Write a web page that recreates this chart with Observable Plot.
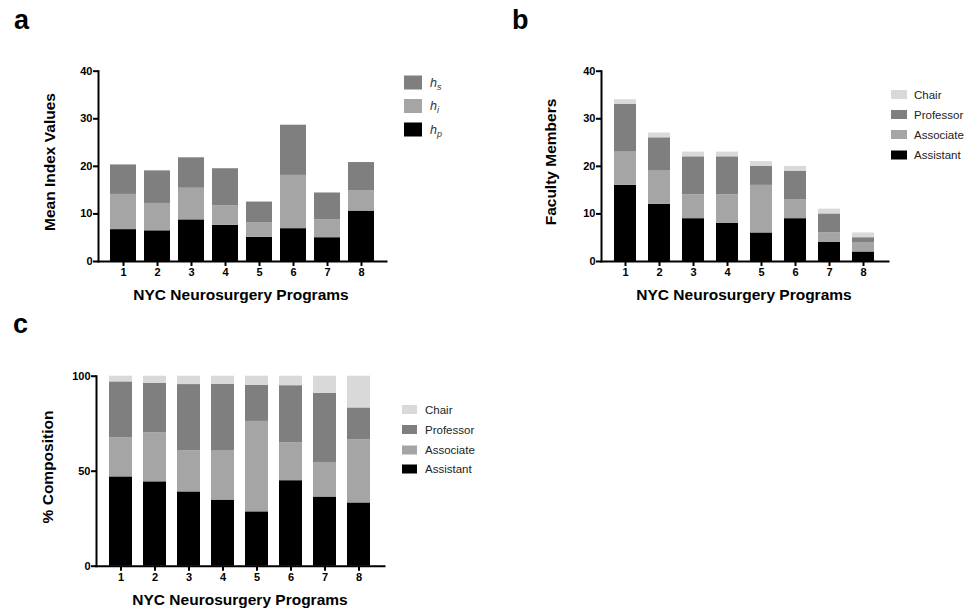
<!DOCTYPE html>
<html>
<head>
<meta charset="utf-8">
<script src="https://cdn.jsdelivr.net/npm/d3@7"></script>
<script src="https://cdn.jsdelivr.net/npm/@observablehq/plot@0.6"></script>
<style>
  html, body { margin: 0; padding: 0; background: #fff; }
  #root { position: relative; width: 977px; height: 613px; background: #fff; overflow: hidden;
          font-family: 'Liberation Sans', Arial, sans-serif; }
  #root > svg, #root > figure { position: absolute; margin: 0; }
</style>
</head>
<body>
<div id="root"></div>
<script>
// ---------- data ----------
const programs = ["1", "2", "3", "4", "5", "6", "7", "8"];

// panel a: mean index values
const indexSeries = ["hp", "hi", "hs"];
const hp = [6.7, 6.45, 8.75, 7.6, 5.1, 6.9, 5.0, 10.6];
const hi = [7.4, 5.75, 6.65, 4.1, 3.0, 11.2, 3.75, 4.3];
const hs = [6.2, 6.85, 6.4, 7.8, 4.4, 10.55, 5.65, 5.9];

// panel b: faculty members
const rankSeries = ["Assistant", "Associate", "Professor", "Chair"];
const assistant = [16, 12, 9, 8, 6, 9, 4, 2];
const associate = [7, 7, 5, 6, 10, 4, 2, 2];
const professor = [10, 7, 8, 8, 4, 6, 4, 1];
const chair = [1, 1, 1, 1, 1, 1, 1, 1];

// panel c: % composition
const pctAssistant = [47.0, 44.4, 39.1, 34.8, 28.6, 45.0, 36.4, 33.3];
const pctAssociate = [20.6, 25.9, 21.7, 26.1, 47.6, 20.0, 18.2, 33.3];
const pctProfessor = [29.4, 25.9, 34.8, 34.8, 19.0, 30.0, 36.4, 16.7];
const pctChair = [3.0, 3.8, 4.4, 4.3, 4.8, 5.0, 9.0, 16.7];

const ticksA = [0, 10, 20, 30, 40];
const ticksB = [0, 10, 20, 30, 40];
const ticksC = [0, 50, 100];

const indexColors = ["#000000", "#a5a5a5", "#7f7f7f"];
const rankColors = ["#000000", "#a5a5a5", "#7f7f7f", "#d9d9d9"];

function tidy(series, arrays) {
  const out = [];
  programs.forEach((p, i) => {
    series.forEach((s, j) => out.push({program: p, series: s, value: arrays[j][i]}));
  });
  return out;
}

const dataA = tidy(indexSeries, [hp, hi, hs]);
const dataB = tidy(rankSeries, [assistant, associate, professor, chair]);
const dataC = tidy(rankSeries, [pctAssistant, pctAssociate, pctProfessor, pctChair]);

function panel(o) {
  return Plot.plot({
    width: o.width, height: o.height,
    marginLeft: o.ml, marginRight: o.mr, marginTop: o.mt, marginBottom: o.mb,
    style: {fontFamily: "'Liberation Sans', Arial, sans-serif", fontWeight: "bold",
            fontSize: "11px", color: "#000", background: "transparent", overflow: "visible"},
    x: {domain: programs, paddingInner: o.pi, paddingOuter: o.po, label: null},
    y: {domain: o.yDomain, label: null},
    color: {domain: o.series, range: o.colors},
    marks: [
      Plot.barY(o.data, {x: "program", y: "value", fill: "series"}),
      Plot.frame({anchor: "left", strokeWidth: 2}),
      Plot.frame({anchor: "bottom", strokeWidth: 2}),
      Plot.axisY({ticks: o.yTicks, tickSize: 5, tickPadding: 1, strokeWidth: 2, label: null, fontSize: 11, fontWeight: "bold"}),
      Plot.axisX({tickSize: 5, tickPadding: 2, strokeWidth: 2, label: null, fontSize: 11, fontWeight: "bold"})
    ]
  });
}

const root = document.getElementById("root");

function place(el, left, top) {
  el.style.position = "absolute";
  el.style.left = left + "px";
  el.style.top = top + "px";
  root.appendChild(el);
}

const a = panel({data: dataA, series: indexSeries, colors: indexColors, yDomain: [0, 40], yTicks: ticksA,
  width: 480, height: 310, ml: 98, mr: 94, mt: 70.7, mb: 49, pi: 0.25, po: 0.29});
place(a, 0, 0);

const b = panel({data: dataB, series: rankSeries, colors: rankColors, yDomain: [0, 40], yTicks: ticksB,
  width: 477, height: 310, ml: 101, mr: 89, mt: 70.7, mb: 49, pi: 0.35, po: 0.335});
place(b, 500, 0);

const c = panel({data: dataC, series: rankSeries, colors: rankColors, yDomain: [0, 100], yTicks: ticksC,
  width: 480, height: 293, ml: 96, mr: 96, mt: 55.7, mb: 47.3, pi: 0.32, po: 0.346});
place(c, 0, 320);

// ---------- overlay: panel letters, axis titles, legends ----------
const svg = d3.create("svg")
  .attr("width", 977).attr("height", 613)
  .style("position", "absolute").style("left", "0px").style("top", "0px")
  .style("pointer-events", "none")
  .style("font-family", "'Liberation Sans', Arial, sans-serif");

const letters = [["a", 14, 29], ["b", 512, 29], ["c", 13, 333]];
letters.forEach(([t, x, y]) => svg.append("text").attr("x", x).attr("y", y)
  .attr("font-size", 27).attr("font-weight", "bold").text(t));

const xTitle = "NYC Neurosurgery Programs";
[[241, 300], [744, 300], [240, 605]].forEach(([x, y]) => svg.append("text")
  .attr("x", x).attr("y", y).attr("text-anchor", "middle")
  .attr("font-size", 15.5).attr("font-weight", "bold").text(xTitle));

const yTitles = [["Mean Index Values", 55, 162], ["Faculty Members", 556, 162], ["% Composition", 53, 467]];
yTitles.forEach(([t, x, y]) => svg.append("text")
  .attr("transform", `translate(${x},${y}) rotate(-90)`).attr("text-anchor", "middle")
  .attr("font-size", 15.5).attr("font-weight", "bold").text(t));

// legend a
const legendA = [["hs", "s", "#7f7f7f", 75.5], ["hi", "i", "#a5a5a5", 99], ["hp", "p", "#000000", 122.5]];
legendA.forEach(([k, sub, col, y]) => {
  svg.append("rect").attr("x", 404).attr("y", y).attr("width", 18).attr("height", 14).attr("fill", col);
  const t = svg.append("text").attr("x", 430).attr("y", y + 11).attr("font-size", 12.5)
    .attr("font-style", "italic").attr("fill", "#333");
  t.append("tspan").text("h");
  t.append("tspan").attr("font-size", 9).attr("dy", 3).text(sub);
});

// legends b and c
const legendRanks = [["Chair", "#d9d9d9"], ["Professor", "#7f7f7f"], ["Associate", "#a5a5a5"], ["Assistant", "#000000"]];
const legB = {x: 891, w: 16, h: 9, tops: [90, 110, 130, 150.5], tx: 914};
const legC = {x: 402, w: 15, h: 9, tops: [405, 425, 445.5, 464.5], tx: 425};
[legB, legC].forEach(L => {
  legendRanks.forEach(([name, col], i) => {
    svg.append("rect").attr("x", L.x).attr("y", L.tops[i]).attr("width", L.w).attr("height", L.h).attr("fill", col);
    svg.append("text").attr("x", L.tx).attr("y", L.tops[i] + L.h / 2 + 4).attr("font-size", 11.5)
      .attr("fill", "#222").text(name);
  });
});

root.appendChild(svg.node());
</script>
</body>
</html>
